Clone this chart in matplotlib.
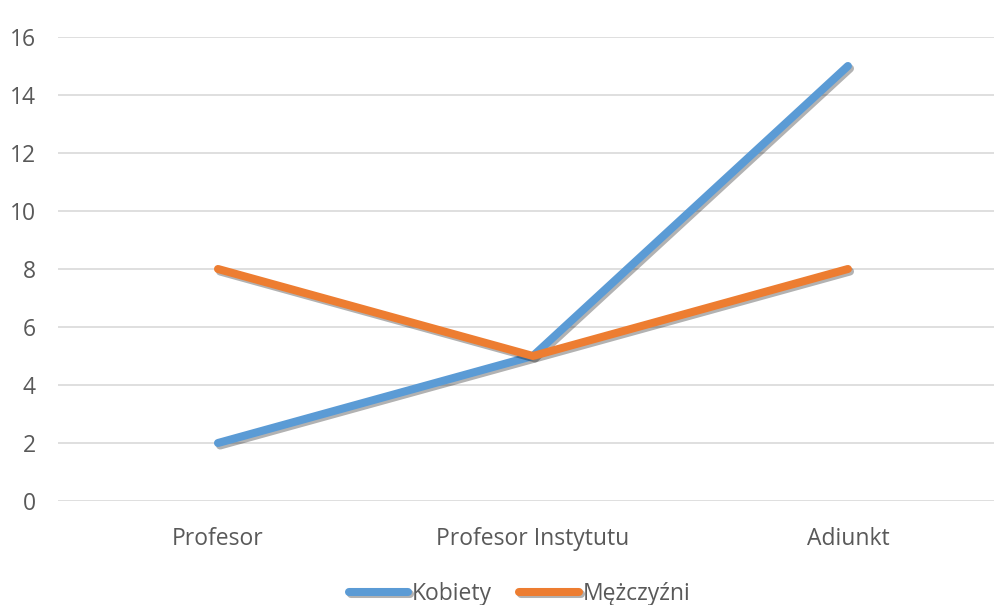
import matplotlib
matplotlib.use("Agg")
import matplotlib.pyplot as plt
import matplotlib.patheffects as pe

categories = ["Profesor", "Profesor Instytutu", "Adiunkt"]
kobiety = [2, 5, 15]
mezczyzni = [8, 5, 8]
series_names = ["Kobiety", "Mężczyźni"]
y_ticks = [0, 2, 4, 6, 8, 10, 12, 14, 16]

plt.rcParams["font.family"] = ["Open Sans", "DejaVu Sans"]
text_color = "#595959"

fig = plt.figure(figsize=(9.95, 6.05), dpi=100)
ax = fig.add_axes([58 / 995, 1 - 501 / 605, 937 / 995, (501 - 37) / 605])

x = list(range(len(categories)))
shadow = [pe.SimpleLineShadow(offset=(1.5, -1.8), shadow_color="black", alpha=0.3), pe.Normal()]
ax.plot(x, kobiety, color="#5B9BD5", lw=5.8, solid_capstyle="round", solid_joinstyle="round",
        label=series_names[0], path_effects=shadow, zorder=3)
ax.plot(x, mezczyzni, color="#ED7D31", lw=5.8, solid_capstyle="round", solid_joinstyle="round",
        label=series_names[1], path_effects=shadow, zorder=4)

ax.set_xlim(-0.508, 2.467)
ax.set_ylim(0, 16)
ax.set_yticks(y_ticks)
ax.set_xticks(x)
ax.set_xticklabels(categories)
ax.grid(axis="y", color="#D9D9D9", lw=1.2)
ax.set_axisbelow(True)
for s in ax.spines.values():
    s.set_visible(False)
ax.tick_params(axis="both", length=0, labelsize=16.5, labelcolor=text_color)
ax.tick_params(axis="y", pad=16)
ax.tick_params(axis="x", pad=19)

leg = fig.legend(loc="center", bbox_to_anchor=(0.522, 1 - 594 / 605), ncol=2,
                 frameon=False, fontsize=16.5, handlelength=2.6, handletextpad=0.15,
                 columnspacing=1.2, borderaxespad=0)
for t in leg.get_texts():
    t.set_color(text_color)
for h in leg.get_lines():
    h.set_linewidth(5.8)

fig.savefig("out.png", dpi=100)
